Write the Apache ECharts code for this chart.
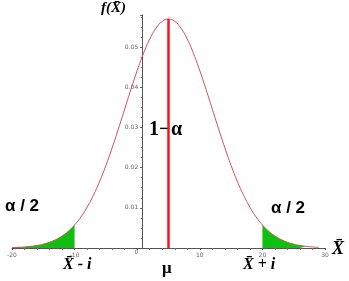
<!DOCTYPE html>
<html>
<head>
<meta charset="utf-8">
<script src="https://cdn.jsdelivr.net/npm/echarts@6/dist/echarts.min.js"></script>
<style>html,body{margin:0;padding:0;background:#fff}#c{width:349px;height:281px}</style>
</head>
<body>
<div id="c"></div>
<script>
const xs = [-20,-19,-18,-17,-16,-15,-14,-13,-12,-11,-10,-9,-8,-7,-6,-5,-4,-3,-2,-1,0,1,2,3,4,5,6,7,8,9,10,11,12,13,14,15,16,17,18,19,20,21,22,23,24,25,26,27,28,29];
const density = [0.00010,0.00016,0.00026,0.00041,0.00063,0.00096,0.00143,0.00209,0.00299,0.00418,0.00574,0.00771,0.01016,0.01311,0.01658,0.02054,0.02494,0.02966,0.03457,0.03947,0.04416,0.04841,0.05199,0.05471,0.05641,0.05699,0.05641,0.05471,0.05199,0.04841,0.04416,0.03947,0.03457,0.02966,0.02494,0.02054,0.01658,0.01311,0.01016,0.00771,0.00574,0.00418,0.00299,0.00209,0.00143,0.00096,0.00063,0.00041,0.00026,0.00016];
const lowerCut = -10;
const upperCut = 20;
const mu = 5;
const peak = 0.05699;
const xTicks = [-20, -10, 0, 10, 20, 30];
const yTicks = [0, 0.01, 0.02, 0.03, 0.04, 0.05];

const curve = xs.map((x, i) => [x, density[i]]);
const leftTail = curve.filter(p => p[0] <= lowerCut);
const rightTail = curve.filter(p => p[0] >= upperCut && p[0] <= 27);

const gridLeft = 12;
const chart = echarts.init(document.getElementById('c'), null, {renderer: 'canvas'});
const tickFont = {fontSize: 6, color: '#666', fontFamily: 'DejaVu Sans'};
chart.setOption({
  animation: false,
  grid: {left: gridLeft, right: 24, top: 15, bottom: 33},
  xAxis: {
    type: 'value', min: -20, max: 30, interval: 10,
    axisLine: {lineStyle: {color: '#555', width: 1}},
    axisTick: {show: true, length: 2, lineStyle: {color: '#555'}},
    minorTick: {show: true, splitNumber: 5, length: 2, lineStyle: {color: '#777'}},
    splitLine: {show: false},
    axisLabel: Object.assign({margin: 4, formatter: v => (xTicks.includes(v) && v !== 0) ? String(v) : ''}, tickFont)
  },
  yAxis: {
    type: 'value', min: 0, max: 0.058, interval: 0.01,
    axisLine: {onZero: false, lineStyle: {color: '#555', width: 1}},
    axisTick: {show: true, length: 2, lineStyle: {color: '#555'}},
    minorTick: {show: true, splitNumber: 4, length: 1.5, lineStyle: {color: '#777'}},
    splitLine: {show: false},
    axisLabel: Object.assign({margin: 4, showMaxLabel: false,
      formatter: v => { const t = yTicks.find(k => Math.abs(k - v) < 1e-9); return t === undefined ? '' : (t === 0 ? '{z|0}' : String(t)); },
      rich: {z: {fontSize: 6, color: '#666', fontFamily: 'DejaVu Sans', padding: [9, 0, 0, 0]}}}, tickFont)
  },
  series: [
    {type: 'line', data: leftTail, smooth: true, symbol: 'none', lineStyle: {width: 0}, areaStyle: {color: '#10c010', opacity: 1}, z: 2},
    {type: 'line', data: rightTail, smooth: true, symbol: 'none', lineStyle: {width: 0}, areaStyle: {color: '#10c010', opacity: 1}, z: 2},
    {type: 'line', data: curve, smooth: true, symbol: 'none', lineStyle: {color: '#d04a5a', width: 1}, z: 3},
    {type: 'line', data: [[mu, 0], [mu, peak]], symbol: 'none', lineStyle: {color: '#ff1020', width: 2.5}, z: 4}
  ],
  graphic: [
    {type: 'text', left: 101, top: 1, style: {text: 'f(X\u0304)', font: 'italic bold 15px "Liberation Serif"', fill: '#000'}},
    {type: 'text', left: 149, top: 120, style: {text: '1\u2212', font: 'bold 20px "Liberation Serif"', fill: '#000'}},
    {type: 'text', left: 171, top: 120, style: {text: '\u03b1', font: 'bold 20px "Liberation Serif"', fill: '#000'}},
    {type: 'text', left: 5, top: 198, style: {text: '\u03b1 / 2', font: 'bold 17px "Liberation Sans"', fill: '#000'}},
    {type: 'text', left: 271, top: 200, style: {text: '\u03b1 / 2', font: 'bold 17px "Liberation Sans"', fill: '#000'}},
    {type: 'text', left: 63, top: 257, style: {text: 'X\u0304 - i', font: 'italic bold 16px "Liberation Serif"', fill: '#000'}},
    {type: 'text', left: 162, top: 260, style: {text: '\u03bc', font: 'bold 17px "Liberation Serif"', fill: '#000'}},
    {type: 'text', left: 243, top: 257, style: {text: 'X\u0304 + i', font: 'italic bold 16px "Liberation Serif"', fill: '#000'}},
    {type: 'text', left: 332, top: 240, style: {text: 'X\u0304', font: 'italic bold 18px "Liberation Serif"', fill: '#000'}}
  ]
});
const zeroPx = chart.convertToPixel({gridIndex: 0}, [0, 0])[0];
chart.setOption({yAxis: {offset: -(zeroPx - gridLeft)}});
</script>
</body>
</html>
